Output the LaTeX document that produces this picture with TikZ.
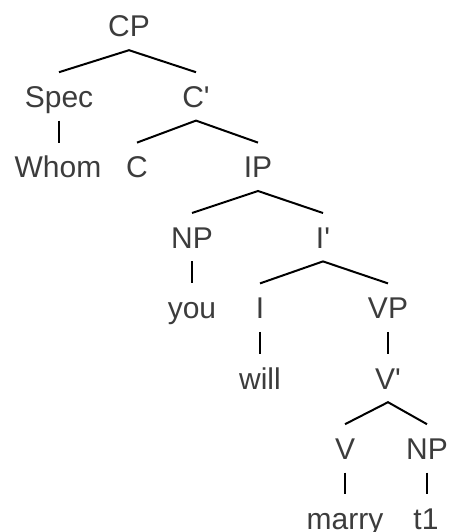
\documentclass[tikz,border=0pt]{standalone}
\usepackage{fontspec}
% keep the apostrophe straight: no TeX quote mapping
\setmainfont{Liberation Sans}[Ligatures=TeXOff]
\definecolor{labelgray}{HTML}{3C3C3C}
\begin{document}
\begin{tikzpicture}[x=1pt, y=-1pt,
  lbl/.style={anchor=base, text=labelgray, font=\fontsize{30}{36}\selectfont,
    text height=22pt, text depth=0pt, inner xsep=0pt, inner ysep=13pt},
  branch/.style={draw=black, line width=2pt}]
\useasboundingbox (0,0) rectangle (449,532);
% row baselines: 37, 107.4, 177.8, 248.2, 318.6, 389, 459.4, 529.5
\node[lbl] (cp)    at (129,37)    {CP};
\node[lbl] (spec)  at (59,107.4)  {Spec};
\node[lbl] (cbar)  at (196,107.4) {C'};
\node[lbl] (whom)  at (58,177.8)  {Whom};
\node[lbl] (c)     at (137,177.8) {C};
\node[lbl] (ip)    at (258,177.8) {IP};
\node[lbl] (np)    at (192,248.2) {NP};
\node[lbl] (ibar)  at (323,248.2) {I'};
\node[lbl] (you)   at (192,318.6) {you};
\node[lbl] (i)     at (260,318.6) {I};
\node[lbl] (vp)    at (388,318.6) {VP};
\node[lbl] (will)  at (260,389)   {will};
\node[lbl] (vbar)  at (388,389)   {V'};
\node[lbl] (v)     at (345,459.4) {V};
\node[lbl] (npo)   at (427,459.4) {NP};
\node[lbl] (marry) at (345,529.5) {marry};
\node[lbl] (tone)  at (426,529.5) {t1};
% branches (unary branches are kept vertical)
\draw[branch] (spec.north) -- (cp.south) -- (cbar.north);
\draw[branch] (spec.south) -- (spec.south |- whom.north);
\draw[branch] (c.north) -- (cbar.south) -- (ip.north);
\draw[branch] (np.north) -- (ip.south) -- (ibar.north);
\draw[branch] (np.south) -- (you.north);
\draw[branch] (i.north) -- (ibar.south) -- (vp.north);
\draw[branch] (i.south) -- (will.north);
\draw[branch] (vp.south) -- (vbar.north);
\draw[branch] (v.north) -- (vbar.south) -- (npo.north);
\draw[branch] (v.south) -- (marry.north);
\draw[branch] (npo.south) -- (npo.south |- tone.north);
\end{tikzpicture}
\end{document}
